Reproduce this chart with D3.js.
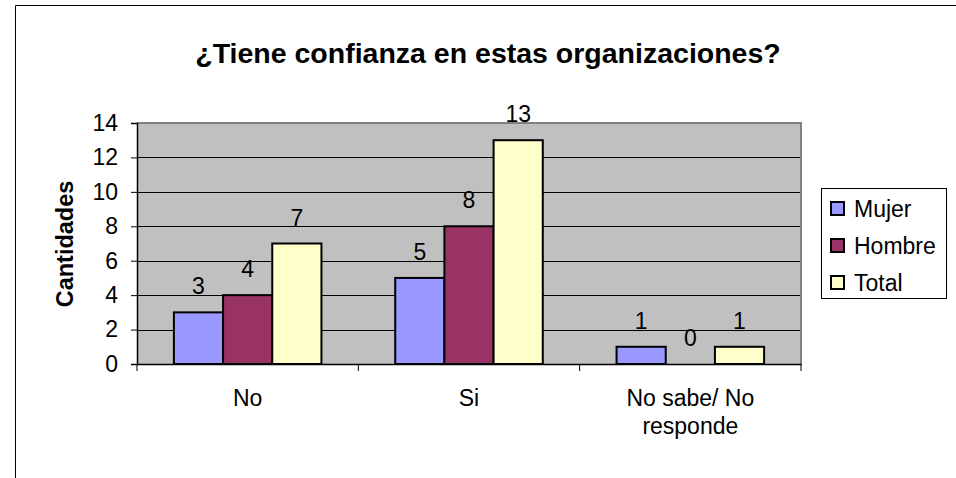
<!DOCTYPE html>
<html>
<head>
<meta charset="utf-8">
<script src="https://cdnjs.cloudflare.com/ajax/libs/d3/7.8.5/d3.min.js"></script>
<style>
    body { margin: 0; background: #fff; }
    svg { display: block; font-family: "Liberation Sans", Arial, sans-serif; }
</style>
</head>
<body>
<svg class="chart"></svg>
<script>
// Data
var categories = ["No", "Si", "No sabe/ No\nresponde"];
var seriesNames = ["Mujer", "Hombre", "Total"];
var mujer = [3, 5, 1];
var hombre = [4, 8, 0];
var total = [7, 13, 1];
var yTicks = [0, 2, 4, 6, 8, 10, 12, 14];

var colors = { "Mujer": "#9999ff", "Hombre": "#993366", "Total": "#ffffcc" };
var seriesValues = { "Mujer": mujer, "Hombre": hombre, "Total": total };

var width = 956;
var height = 478;
var plot = { left: 137, right: 801, top: 123, bottom: 364 };
var fontSize = '23px';

var chart = d3.select('.chart')
    .attr('width', width)
    .attr('height', height);

// Outer frame (only top and left edges are in view)
chart.append('path')
    .attr('d', 'M15.5,' + height + 'V5.5H' + width)
    .attr('fill', 'none')
    .attr('stroke', '#000')
    .attr('stroke-width', 1);

// Title
chart.append('text')
    .attr('x', 488)
    .attr('y', 63)
    .attr('text-anchor', 'middle')
    .style('font-size', '28.5px')
    .style('font-weight', 'bold')
    .text('¿Tiene confianza en estas organizaciones?');

// Scales
var x0 = d3.scaleBand()
    .domain(categories)
    .range([plot.left, plot.right])
    .padding(0);

var x1 = d3.scaleBand()
    .domain(seriesNames)
    .range([0, x0.bandwidth()])
    .paddingInner(0)
    .paddingOuter(0.75);

var y = d3.scaleLinear()
    .domain([0, 14])
    .range([plot.bottom, plot.top]);

// Plot background
chart.append('rect')
    .attr('x', plot.left)
    .attr('y', plot.top)
    .attr('width', plot.right - plot.left)
    .attr('height', plot.bottom - plot.top)
    .attr('fill', '#c0c0c0');

// Gridlines
chart.append('g')
    .selectAll('line')
    .data(yTicks.filter(function(t) { return t > 0 && t < 14; }))
    .enter()
    .append('line')
    .attr('x1', plot.left)
    .attr('x2', plot.right)
    .attr('y1', function(d) { return Math.round(y(d)) + 0.5; })
    .attr('y2', function(d) { return Math.round(y(d)) + 0.5; })
    .attr('stroke', '#000')
    .attr('stroke-width', 1);

// Plot border (top and right)
chart.append('path')
    .attr('d', 'M' + plot.left + ',' + plot.top + 'H' + plot.right + 'V' + plot.bottom)
    .attr('fill', 'none')
    .attr('stroke', '#808080')
    .attr('stroke-width', 2);

// Bars
var groups = chart.append('g')
    .selectAll('g')
    .data(categories)
    .enter()
    .append('g')
    .attr('transform', function(d) { return 'translate(' + x0(d) + ',0)'; });

groups.selectAll('rect')
    .data(function(d, i) {
        return seriesNames.map(function(s) { return { series: s, value: seriesValues[s][i] }; });
    })
    .enter()
    .append('rect')
    .attr('x', function(d) { return x1(d.series); })
    .attr('y', function(d) { return y(d.value); })
    .attr('width', x1.bandwidth())
    .attr('height', function(d) { return y(0) - y(d.value); })
    .attr('fill', function(d) { return colors[d.series]; })
    .attr('stroke', function(d) { return d.value > 0 ? '#000' : 'none'; })
    .attr('stroke-width', 2);

// Data labels
groups.selectAll('text')
    .data(function(d, i) {
        return seriesNames.map(function(s) { return { series: s, value: seriesValues[s][i] }; });
    })
    .enter()
    .append('text')
    .attr('x', function(d) { return x1(d.series) + x1.bandwidth() / 2; })
    .attr('y', function(d) { return y(d.value) - 18; })
    .attr('text-anchor', 'middle')
    .style('font-size', fontSize)
    .text(function(d) { return d.value; });

// Y axis
var yAxis = d3.axisLeft(y)
    .tickValues(yTicks)
    .tickSize(6)
    .tickPadding(13);

var yg = chart.append('g')
    .attr('transform', 'translate(' + plot.left + ',0)')
    .call(yAxis);
yg.select('.domain').attr('stroke', '#000').attr('stroke-width', 1.5);
yg.selectAll('text').style('font-size', fontSize).attr('fill', '#000')
    .attr('font-family', null);

// X axis
var xAxis = d3.axisBottom(x0)
    .tickValues([])
    .tickSizeOuter(0);

var xg = chart.append('g')
    .attr('transform', 'translate(0,' + plot.bottom + ')')
    .call(xAxis);
xg.select('.domain').attr('stroke', '#000').attr('stroke-width', 1.5);

// Tick marks at category boundaries
xg.selectAll('.boundary')
    .data(categories.concat(['end']))
    .enter()
    .append('line')
    .attr('class', 'boundary')
    .attr('x1', function(d, i) { return plot.left + i * x0.step(); })
    .attr('x2', function(d, i) { return plot.left + i * x0.step(); })
    .attr('y1', 0)
    .attr('y2', 7)
    .attr('stroke', '#000');

// Category labels
var xLabels = xg.selectAll('.catlabel')
    .data(categories)
    .enter()
    .append('text')
    .attr('class', 'catlabel')
    .attr('text-anchor', 'middle')
    .attr('fill', '#000')
    .style('font-size', fontSize)
    .attr('transform', function(d) { return 'translate(' + (x0(d) + x0.bandwidth() / 2) + ',42)'; });

xLabels.selectAll('tspan')
    .data(function(d) { return d.split('\n'); })
    .enter()
    .append('tspan')
    .attr('x', 0)
    .attr('dy', function(d, i) { return i === 0 ? 0 : 28; })
    .text(function(d) { return d; });

// Y axis title
chart.append('text')
    .attr('transform', 'translate(73,244) rotate(-90)')
    .attr('text-anchor', 'middle')
    .style('font-size', '23.5px')
    .style('font-weight', 'bold')
    .text('Cantidades');

// Legend
var legend = chart.append('g')
    .attr('transform', 'translate(821,188)');

legend.append('rect')
    .attr('x', 0.5)
    .attr('y', 0.5)
    .attr('width', 125)
    .attr('height', 110)
    .attr('fill', '#fff')
    .attr('stroke', '#000');

var items = legend.selectAll('.item')
    .data(seriesNames)
    .enter()
    .append('g')
    .attr('class', 'item')
    .attr('transform', function(d, i) { return 'translate(0,' + (20 + i * 37) + ')'; });

items.append('rect')
    .attr('x', 10)
    .attr('y', -6)
    .attr('width', 13)
    .attr('height', 13)
    .attr('fill', function(d) { return colors[d]; })
    .attr('stroke', '#000')
    .attr('stroke-width', 2);

items.append('text')
    .attr('x', 33)
    .attr('y', 9)
    .style('font-size', fontSize)
    .text(function(d) { return d; });
</script>
</body>
</html>
